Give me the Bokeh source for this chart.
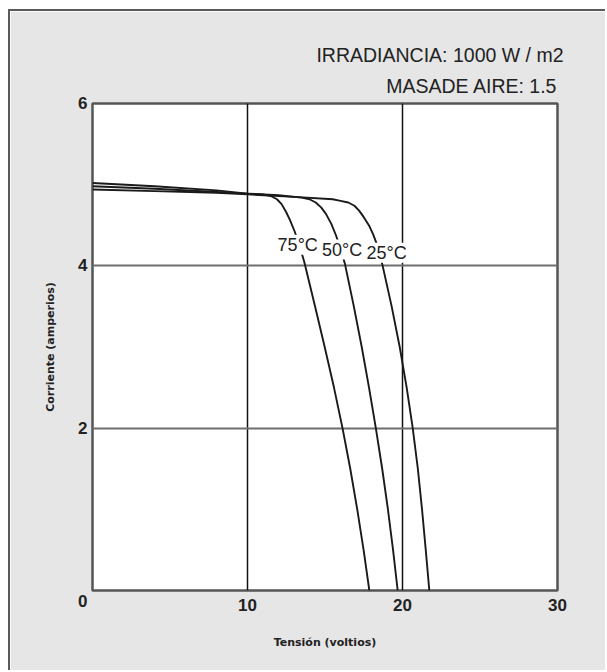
from bokeh.plotting import figure
from bokeh.models import Range1d, FixedTicker, LabelSet, ColumnDataSource, Title
from bokeh.core.properties import value
from bokeh.embed import file_html
from bokeh.resources import INLINE

# ---- data ----
v_25 = [0, 4, 8, 10, 13, 15.5, 16.0, 16.5, 16.9, 17.2, 17.5, 17.86, 18.1, 18.3, 18.5, 18.72, 19.3, 19.82, 20.27, 20.66, 20.99, 21.26, 21.5, 21.73]
i_25 = [4.94, 4.92, 4.90, 4.88, 4.85, 4.82, 4.80, 4.78, 4.74, 4.68, 4.60, 4.49, 4.39, 4.29, 4.16, 4.0, 3.5, 3.0, 2.5, 2.0, 1.5, 1.0, 0.5, 0.0]

v_50 = [0, 4, 8, 10, 12, 13.5, 14.0, 14.4, 14.75, 15.06, 15.4, 15.7, 16.0, 16.28, 16.86, 17.37, 17.84, 18.28, 18.69, 19.06, 19.39, 19.69]
i_50 = [4.98, 4.95, 4.91, 4.89, 4.87, 4.84, 4.82, 4.78, 4.72, 4.64, 4.52, 4.38, 4.21, 4.03, 3.5, 3.0, 2.5, 2.0, 1.5, 1.0, 0.5, 0.0]

v_75 = [0, 4, 8, 10, 11.0, 11.5, 11.9, 12.2, 12.5, 12.75, 13.05, 13.35, 13.66, 14.36, 14.98, 15.58, 16.13, 16.63, 17.08, 17.49, 17.86]
i_75 = [5.02, 4.98, 4.93, 4.89, 4.88, 4.86, 4.82, 4.76, 4.66, 4.56, 4.42, 4.25, 4.05, 3.5, 3.0, 2.5, 2.0, 1.5, 1.0, 0.5, 0.0]

temp_labels = ["75°C", "50°C", "25°C"]
label_v = [13.24, 16.1, 18.97]
label_i = [4.26, 4.20, 4.16]

x_ticks = [0, 10, 20, 30]
y_ticks = [0, 2, 4, 6]
x_grid = [10, 20]
y_grid = [2, 4]

header1 = "IRRADIANCIA: 1000 W / m2"
header2 = "MASADE AIRE: 1.5"
x_title = "Tensión (voltios)"
y_title = "Corriente (amperios)"

FONT = "Liberation Sans"
TITLE_FONT = "DejaVu Sans"
INK = "#222222"

p = figure(width=597, height=661, output_backend="svg", toolbar_location=None,
           x_range=Range1d(0, 30), y_range=Range1d(0, 6),
           min_border_left=82, min_border_right=50, min_border_top=92, min_border_bottom=82)
p.styles = {"margin-left": "8px", "margin-top": "9px",
            "border-left": "2px solid #5a5a5a", "border-top": "2px solid #5a5a5a"}
p.background_fill_color = "white"
p.border_fill_color = "#e6e6e6"
p.outline_line_color = "#555555"
p.outline_line_width = 2.5

# header lines as titles
t2 = Title(text=header2, align="right", offset=0, standoff=14, text_font=FONT,
           text_font_size="19.5px", text_font_style="normal", text_color=INK)
t1 = Title(text=header1, align="right", offset=-6, standoff=0, text_font=FONT,
           text_font_size="19.5px", text_font_style="normal", text_color=INK)
p.add_layout(t2, "above")
p.add_layout(t1, "above")

# grids
p.xgrid.ticker = FixedTicker(ticks=x_grid)
p.ygrid.ticker = FixedTicker(ticks=y_grid)
p.xgrid.grid_line_color = "#111111"
p.xgrid.grid_line_width = 1.5
p.ygrid.grid_line_color = "#6e6e6e"
p.ygrid.grid_line_width = 2.2

# axes
for ax in (p.xaxis[0], p.yaxis[0]):
    ax.axis_line_color = None
    ax.major_tick_line_color = None
    ax.minor_tick_line_color = None
    ax.major_tick_out = 0
    ax.major_tick_in = 0
    ax.minor_tick_out = 0
    ax.major_label_text_font = FONT
    ax.major_label_text_font_style = "bold"
    ax.major_label_text_font_size = "17px"
    ax.major_label_text_color = INK
    ax.axis_label_text_font = TITLE_FONT
    ax.axis_label_text_font_style = "bold"
    ax.axis_label_text_font_size = "11px"
    ax.axis_label_text_color = INK
p.xaxis.ticker = FixedTicker(ticks=x_ticks)
p.yaxis.ticker = FixedTicker(ticks=y_ticks)
p.xaxis.major_label_overrides = {0: ""}
p.yaxis.major_label_overrides = {0: "\n0"}
p.xaxis.major_label_standoff = 8
p.yaxis.major_label_standoff = 5
p.xaxis.axis_label = x_title
p.yaxis.axis_label = y_title
p.xaxis.axis_label_standoff = 22
p.yaxis.axis_label_standoff = 18

# curves
for vv, ii in ((v_25, i_25), (v_50, i_50), (v_75, i_75)):
    p.line(vv, ii, line_color="#1a1a1a", line_width=1.9)

# temperature labels with white background (breaks the curves)
src = ColumnDataSource(dict(x=label_v, y=label_i, t=temp_labels))
p.add_layout(LabelSet(x="x", y="y", text="t", source=src, text_align="center",
                      text_baseline="middle", text_font=value(FONT), text_font_size="18px",
                      text_color=INK, background_fill_color="white"))

open("out.html", "w").write(file_html(p, INLINE))
